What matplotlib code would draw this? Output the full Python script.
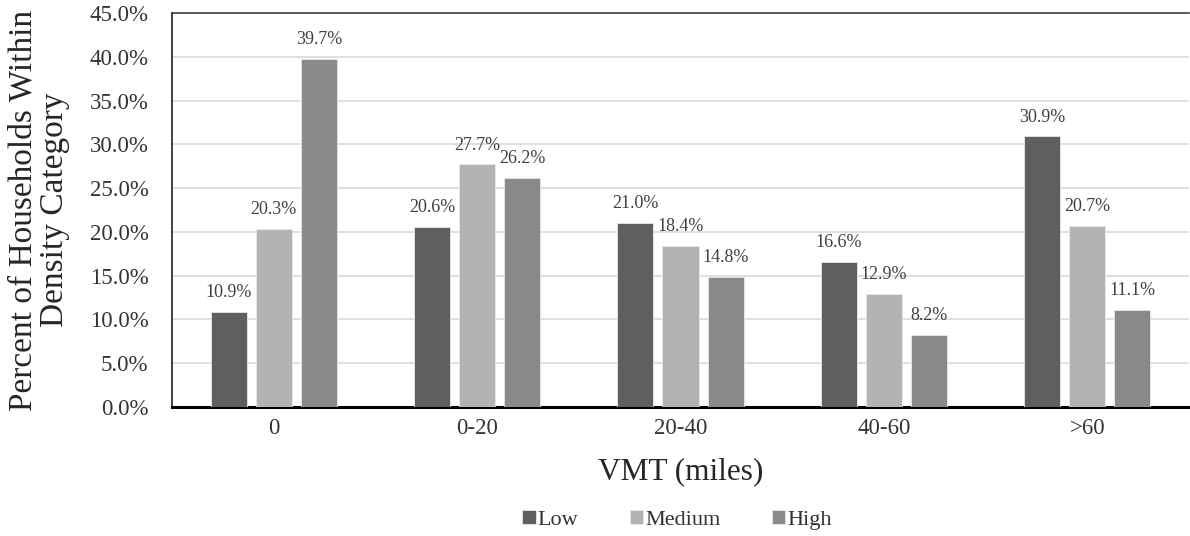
import matplotlib
matplotlib.use("Agg")
import matplotlib.pyplot as plt
import numpy as np

categories = ["0", "0-20", "20-40", "40-60", ">60"]
low = [10.9, 20.6, 21.0, 16.6, 30.9]
medium = [20.3, 27.7, 18.4, 12.9, 20.7]
high = [39.7, 26.2, 14.8, 8.2, 11.1]
series_names = ["Low", "Medium", "High"]
colors = ["#5f5f5f", "#b3b3b3", "#898989"]

plt.rcParams['font.family'] = ['Liberation Serif', 'DejaVu Serif']

fig = plt.figure(figsize=(11.9, 5.36), dpi=100)
ax = fig.add_axes([172/1190, 1-407/536, (1189-172)/1190, (407-13)/536])

x = np.arange(len(categories))
w = 0.177
step = 0.222
for i, (vals, name, c) in enumerate(zip([low, medium, high], series_names, colors)):
    pos = x + (i-1)*step
    ax.bar(pos, vals, width=w, color=c, label=name, zorder=3,
           edgecolor="#e8e8e8", linewidth=0.6)
    for p, v in zip(pos, vals):
        ax.text(p, v + 1.25, f"{v:.1f}%", ha="center", va="bottom",
                fontsize=13, color="#404040")

ax.set_xlim(-0.5, 4.5)
ax.set_ylim(0, 45)
ax.set_yticks(np.arange(0, 46, 5))
ax.set_yticklabels([f"{t:.1f}%" for t in np.arange(0, 46, 5)], fontsize=16.5, color="#333333")
ax.set_xticks(x)
ax.set_xticklabels(categories, fontsize=16.5, color="#333333")
ax.tick_params(axis="both", length=0)
ax.tick_params(axis="x", pad=8)
ax.tick_params(axis="y", pad=17)
ax.yaxis.grid(True, color="#d9d9d9", linewidth=1.2, zorder=0)
ax.set_axisbelow(True)
ax.spines["right"].set_visible(False)
ax.spines["top"].set_color("#404040")
ax.spines["top"].set_linewidth(1.2)
ax.spines["left"].set_color("#202020")
ax.spines["left"].set_linewidth(1.2)
ax.spines["bottom"].set_color("black")
ax.spines["bottom"].set_linewidth(2.2)

ax.set_xlabel("VMT (miles)", fontsize=22.5, color="#262626", labelpad=13)
fig.text(39/1190, 1-210/536, "Percent of Households Within\nDensity Category",
         rotation=90, ha="center", va="center", fontsize=24, color="#262626",
         linespacing=1.08)

leg = fig.legend(loc="center", bbox_to_anchor=(677/1190, 1-520/536), ncol=3,
                 frameon=False, fontsize=16, handlelength=0.6, handleheight=0.6,
                 handletextpad=0.1, columnspacing=2.3)
for t in leg.get_texts():
    t.set_color("#333333")

fig.savefig("out.png", dpi=100)
